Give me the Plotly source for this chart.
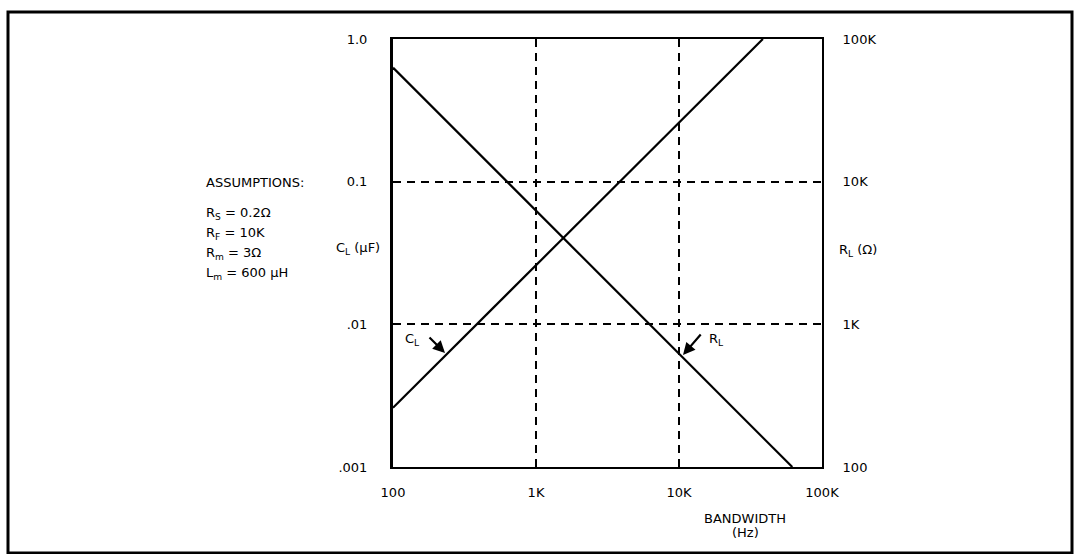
import plotly.graph_objects as go

# ---- data ----
bandwidth_cl = [100, 38600]          # Hz
cl_uF = [0.0026, 1.0]                # left axis (uF)
bandwidth_rl = [100, 62000]          # Hz
rl_ohm = [63000, 100]                # right axis (Ohm)

x_tickvals = [100, 1000, 10000, 100000]
x_ticktext = ["100", "1K", "10K", "100K"]
yl_tickvals = [0.001, 0.01, 0.1, 1.0]
yl_ticktext = [".001", ".01", "0.1", "1.0"]
yr_tickvals = [100, 1000, 10000, 100000]
yr_ticktext = ["100", "1K", "10K", "100K"]

assumptions = [
    "R<sub>S</sub> = 0.2\u03a9",
    "R<sub>F</sub> = 10K",
    "R<sub>m</sub> = 3\u03a9",
    "L<sub>m</sub> = 600 \u00b5H",
]

W, H = 1074, 554
L, R, T, B = 393, 822, 39, 467
FONT = "DejaVu Sans, Arial, sans-serif"


def px(x):
    return (x - L) / (R - L)


def py(y):
    return (B - y) / (B - T)


fig = go.Figure()
fig.add_trace(go.Scatter(x=bandwidth_cl, y=cl_uF, mode="lines",
                         line=dict(color="black", width=2.2), yaxis="y",
                         showlegend=False, hoverinfo="skip"))
fig.add_trace(go.Scatter(x=bandwidth_rl, y=rl_ohm, mode="lines",
                         line=dict(color="black", width=2.2), yaxis="y2",
                         showlegend=False, hoverinfo="skip"))

annotations = []
annotations.append(dict(text="ASSUMPTIONS:", x=px(204), y=py(182), xref="paper", yref="paper",
                        xanchor="left", yanchor="middle", showarrow=False))
for i, s in enumerate(assumptions):
    annotations.append(dict(text=s, x=px(204), y=py(213 + i * 20), xref="paper", yref="paper",
                            xanchor="left", yanchor="middle", showarrow=False))
annotations.append(dict(text="C<sub>L</sub> (\u00b5F)", x=px(382), y=py(248), xref="paper", yref="paper",
                        xanchor="right", yanchor="middle", showarrow=False))
annotations.append(dict(text="R<sub>L</sub> (\u03a9)", x=px(837), y=py(250), xref="paper", yref="paper",
                        xanchor="left", yanchor="middle", showarrow=False))
annotations.append(dict(text="BANDWIDTH", x=px(745), y=py(518), xref="paper", yref="paper",
                        xanchor="center", yanchor="middle", showarrow=False))
annotations.append(dict(text="(Hz)", x=px(745), y=py(532), xref="paper", yref="paper",
                        xanchor="center", yanchor="middle", showarrow=False))
# line labels with arrows
annotations.append(dict(text="C<sub>L</sub>", x=px(412), y=py(339), xref="paper", yref="paper",
                        xanchor="center", yanchor="middle", showarrow=False))
annotations.append(dict(text="", x=px(445), y=py(353), xref="paper", yref="paper",
                        ax=-17, ay=-17, showarrow=True, arrowhead=2, arrowsize=1.1,
                        arrowwidth=2.2, arrowcolor="black"))
annotations.append(dict(text="R<sub>L</sub>", x=px(716), y=py(339), xref="paper", yref="paper",
                        xanchor="center", yanchor="middle", showarrow=False))
annotations.append(dict(text="", x=px(683), y=py(355), xref="paper", yref="paper",
                        ax=19, ay=-22, showarrow=True, arrowhead=2, arrowsize=1.1,
                        arrowwidth=2.2, arrowcolor="black"))

shapes = [dict(type="rect", xref="paper", yref="paper",
               x0=px(8), x1=px(1072), y0=py(553), y1=py(12),
               line=dict(color="black", width=3))]

fig.update_layout(
    width=W, height=H,
    margin=dict(l=L, r=W - R, t=T, b=H - B, pad=0),
    paper_bgcolor="white", plot_bgcolor="white",
    font=dict(family=FONT, size=13, color="black"),
    showlegend=False,
    xaxis=dict(type="log", range=[2, 5], tickvals=x_tickvals, ticktext=x_ticktext,
               showline=True, linecolor="black", linewidth=2, mirror=True,
               showgrid=True, gridcolor="black", gridwidth=1.5, griddash="8px,6px",
               zeroline=False, ticks="", ticklabelstandoff=12),
    yaxis=dict(type="log", range=[-3, 0], tickvals=yl_tickvals, ticktext=yl_ticktext,
               showline=True, linecolor="black", linewidth=3, mirror=False,
               showgrid=True, gridcolor="black", gridwidth=1.5, griddash="8px,6px",
               zeroline=False, ticks="", ticklabelstandoff=20),
    yaxis2=dict(type="log", range=[2, 5], tickvals=yr_tickvals, ticktext=yr_ticktext,
                overlaying="y", side="right", showline=True, linecolor="black", linewidth=2,
                showgrid=False, zeroline=False, ticks="", ticklabelstandoff=16),
    annotations=annotations,
    shapes=shapes,
)

fig.write_html("out.html", config={"displayModeBar": False},
               post_script="document.body.style.margin='0';document.body.style.overflow='hidden';")
